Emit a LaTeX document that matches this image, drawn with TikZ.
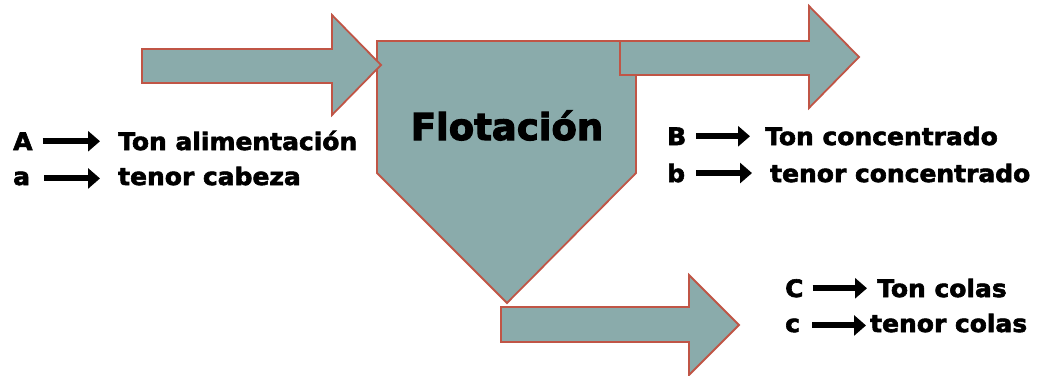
\documentclass[tikz,border=0pt]{standalone}
\usepackage{fontspec}
\usetikzlibrary{arrows.meta}
\newfontfamily\lblfont[FakeStretch=1.04,FakeBold=2.5]{DejaVu Sans Bold}
\newfontfamily\titlefont[FakeBold=3]{DejaVu Sans Bold}
\definecolor{cellfill}{RGB}{138,171,171}
\definecolor{celledge}{RGB}{192,85,70}
\tikzset{
  flow/.style={fill=cellfill, draw=celledge, line width=1.8pt, line join=miter},
  lbl/.style={inner sep=0pt, anchor=base west, font=\lblfont\fontsize{24}{28}\selectfont},
  lblarrow/.style={line width=6pt, -{Triangle[length=12pt,width=20pt]}}
}
\begin{document}
\begin{tikzpicture}[x=1pt,y=-1pt]
\useasboundingbox (0,0) rectangle (1060,375);

% flotation cell
\draw[flow] (377,41) -- (636,41) -- (636,173) -- (507,303) -- (377,173) -- cycle;
\node[font=\titlefont\fontsize{37}{40}\selectfont, inner sep=0pt, anchor=base] (cell) at (507,140) {Flotación};

% feed stream
\draw[flow] (142,49) -- (332,49) -- (332,15) -- (381,65) -- (332,115) -- (332,83) -- (142,83) -- cycle;
% concentrate stream
\draw[flow] (620,41) -- (809,41) -- (809,6) -- (859,57) -- (809,108) -- (809,75) -- (620,75) -- cycle;
% tailings stream
\draw[flow] (501,307) -- (689,307) -- (689,275) -- (739,325) -- (689,375) -- (689,342) -- (501,342) -- cycle;

% feed labels
\node[lbl] (A) at (13,150) {A};
\node[lbl] (tA) at (118,150) {Ton alimentación};
\node[lbl] (a) at (13,185) {a};
\node[lbl] (ta) at (118,185) {tenor cabeza};
\draw[lblarrow] ([xshift=10pt]A.east) -- ([xshift=-18pt]tA.west |- A.east);
\draw[lblarrow] ([xshift=14pt]a.east) -- ([xshift=-18pt]ta.west |- a.east);

% concentrate labels
\node[lbl] (B) at (667,145) {B};
\node[lbl] (tB) at (765,145) {Ton concentrado};
\node[lbl] (b) at (667,182) {b};
\node[lbl] (tb) at (770,182) {tenor concentrado};
\draw[lblarrow] ([xshift=10pt]B.east) -- ([xshift=-15pt]tB.west |- B.east);
\draw[lblarrow] ([xshift=11pt]b.east) -- ([xshift=-18pt]tb.west |- b.east);

% tailings labels
\node[lbl] (C) at (785,297) {C};
\node[lbl] (tC) at (877,297) {Ton colas};
\node[lbl] (c) at (785,332) {c};
\node[lbl] (tc) at (870,332) {tenor colas};
\draw[lblarrow] ([xshift=9pt]C.east) -- ([xshift=-10pt]tC.west |- C.east);
\draw[lblarrow] ([xshift=12pt]c.east) -- ([xshift=-4pt]tc.west |- c.east);
\end{tikzpicture}
\end{document}
